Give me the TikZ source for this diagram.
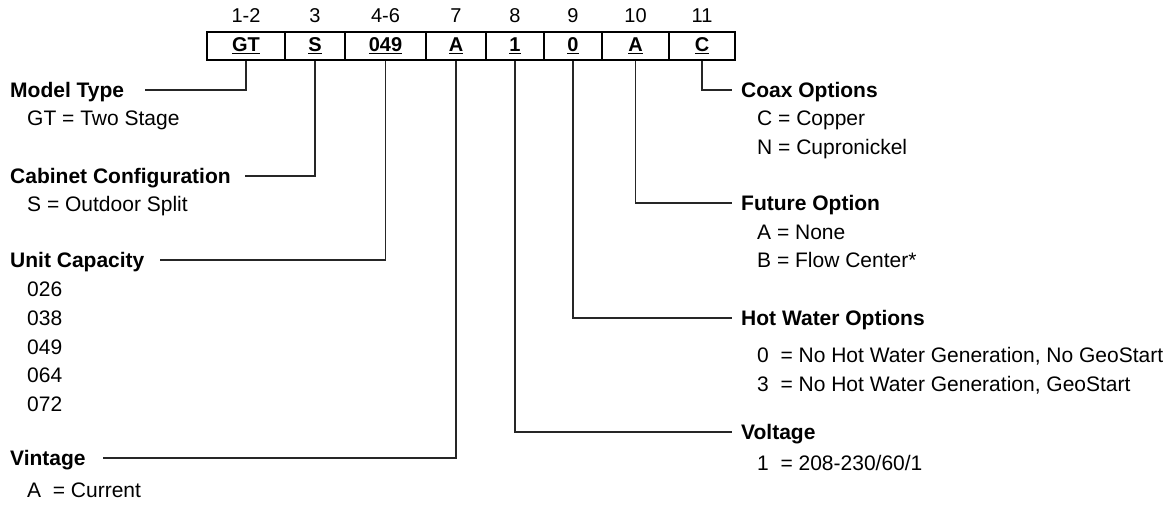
\documentclass[tikz,border=0pt]{standalone}
\usepackage{fontspec}
\setmainfont{Liberation Sans}
\begin{document}
\begin{tikzpicture}[x=1pt,y=-1pt,
  cell/.style={draw=black, line width=1.8pt, minimum height=28pt, inner sep=0pt, font=\fontsize{20}{24}\selectfont\bfseries},
  hdr/.style={anchor=base, inner sep=0pt, font=\fontsize{20}{24}\selectfont},
  title/.style={anchor=base west, inner sep=0pt, font=\fontsize{21}{25}\selectfont\bfseries},
  item/.style={anchor=base west, inner sep=0pt, font=\fontsize{21}{25}\selectfont},
  conn/.style={draw=black!85, line width=1.1pt}]
\useasboundingbox (0,0) rectangle (1173,504);
% code cells
\node[cell, minimum width=78pt] (c1) at (246,46) {\underline{GT}};
\node[cell, minimum width=60pt] (c2) at (315,46) {\underline{S}};
\node[cell, minimum width=81pt] (c3) at (385.5,46) {\underline{049}};
\node[cell, minimum width=60pt] (c4) at (456,46) {\underline{A}};
\node[cell, minimum width=58pt] (c5) at (515,46) {\underline{1}};
\node[cell, minimum width=58pt] (c6) at (573,46) {\underline{0}};
\node[cell, minimum width=67pt] (c7) at (635.5,46) {\underline{A}};
\node[cell, minimum width=66pt] (c8) at (702,46) {\underline{C}};
% position headers
\node[hdr] (h1) at ([yshift=9pt]c1.north) {1-2};
\node[hdr] (h2) at ([yshift=9pt]c2.north) {3};
\node[hdr] (h3) at ([yshift=9pt]c3.north) {4-6};
\node[hdr] (h4) at ([yshift=9pt]c4.north) {7};
\node[hdr] (h5) at ([yshift=9pt]c5.north) {8};
\node[hdr] (h6) at ([yshift=9pt]c6.north) {9};
\node[hdr] (h7) at ([yshift=9pt]c7.north) {10};
\node[hdr] (h8) at ([yshift=9pt]c8.north) {11};
% left side
\node[title] (mt) at (10,97) {Model Type};
\node[item] (mt1) at (27,125) {GT = Two Stage};
\node[title] (cc) at (10,183) {Cabinet Configuration};
\node[item] (cc1) at (27,211) {S = Outdoor Split};
\node[title] (uc) at (10,267) {Unit Capacity};
\node[item] (uc1) at (27,296) {026};
\node[item] (uc2) at (27,325) {038};
\node[item] (uc3) at (27,354) {049};
\node[item] (uc4) at (27,382) {064};
\node[item] (uc5) at (27,411) {072};
\node[title] (vi) at (10,465) {Vintage};
\node[item] (vi1) at (27,497) {A\ \ = Current};
% right side
\node[title] (co) at (741,97) {Coax Options};
\node[item] (co1) at (757,125) {C = Copper};
\node[item] (co2) at (757,154) {N = Cupronickel};
\node[title] (fo) at (741,210) {Future Option};
\node[item] (fo1) at (757,239) {A = None};
\node[item] (fo2) at (757,267) {B = Flow Center*};
\node[title] (hw) at (741,325) {Hot Water Options};
\node[item] (hw1) at (757,362) {0\ \ = No Hot Water Generation, No GeoStart};
\node[item] (hw2) at (757,391) {3\ \ = No Hot Water Generation, GeoStart};
\node[title] (vo) at (741,439) {Voltage};
\node[item] (vo1) at (757,470) {1\ \ = 208-230/60/1};
% line ends
\coordinate (mtl) at (145,90);
\coordinate (ccl) at (245,176);
\coordinate (ucl) at (160,260);
\coordinate (vil) at (103,458);
\coordinate (col) at (732,90);
\coordinate (fol) at (732,203);
\coordinate (hwl) at (732,318);
\coordinate (vol) at (732,432);
% connectors
\draw[conn] (c1.south) |- (mtl);
\draw[conn] (c2.south) |- (ccl);
\draw[conn] (c3.south) |- (ucl);
\draw[conn] (c4.south) |- (vil);
\draw[conn] (c5.south) |- (vol);
\draw[conn] (c6.south) |- (hwl);
\draw[conn] (c7.south) |- (fol);
\draw[conn] (c8.south) |- (col);
\end{tikzpicture}
\end{document}
